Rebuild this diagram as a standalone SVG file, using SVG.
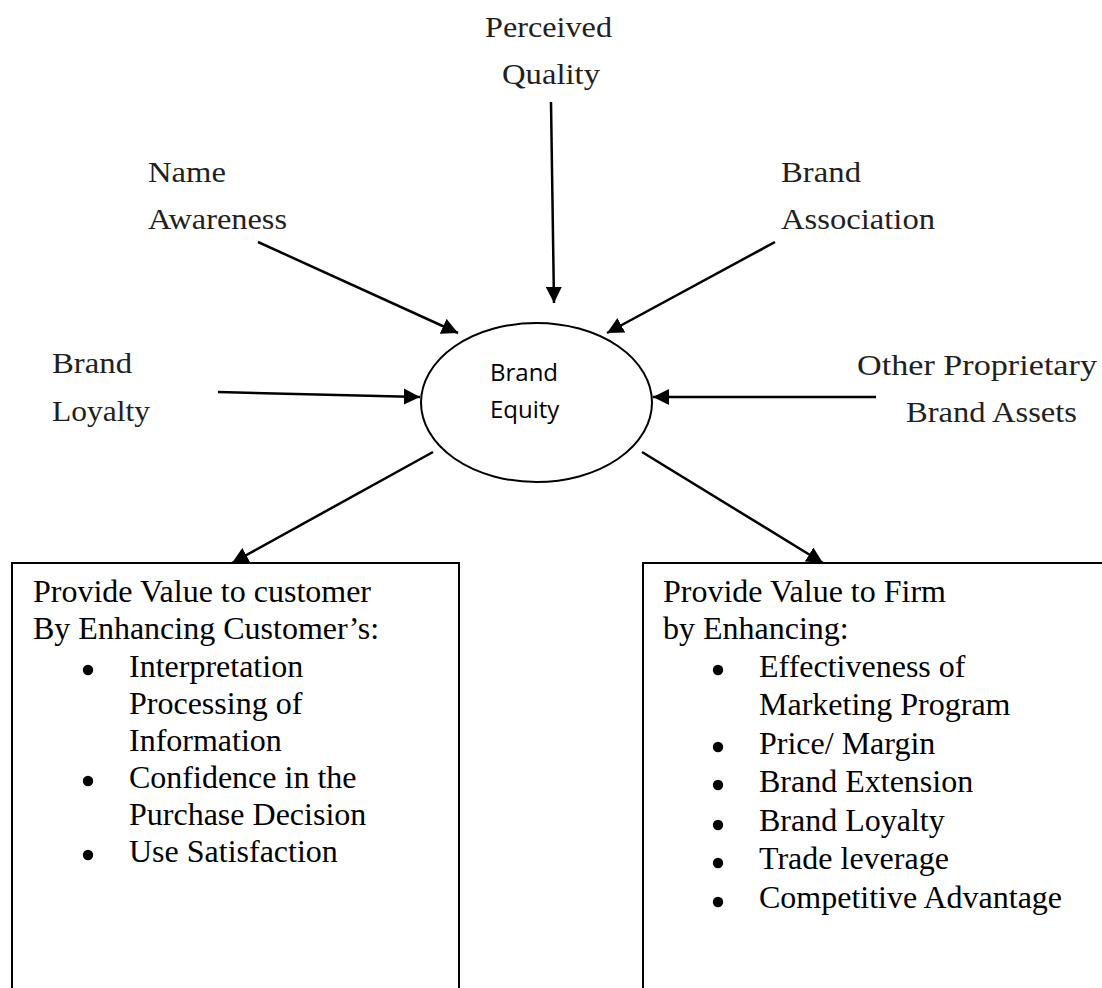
<svg xmlns="http://www.w3.org/2000/svg" width="1102" height="988" viewBox="0 0 1102 988">
<style>
.lbl{font-family:"Liberation Serif","Times New Roman",serif;font-size:29px;fill:#231f20}
.box{font-family:"Liberation Serif","Times New Roman",serif;font-size:32px;fill:#000}
.core{font-family:"Open Sans","Noto Sans",sans-serif;font-size:24px;fill:#000}
.ln{stroke:#000;stroke-width:2.5;fill:none}
.shape{stroke:#000;stroke-width:2;fill:#fff}
.bul{fill:#000}
</style>
<defs>
<marker id="ah" viewBox="0 0 10 10" refX="10" refY="5" markerWidth="6.5" markerHeight="6.5" orient="auto" markerUnits="strokeWidth">
<path d="M0,0 L10,5 L0,10 z" fill="#000"/>
</marker>
</defs>
<rect width="1102" height="988" fill="#fff"/>
<g id="connectors">
<line class="ln" x1="551" y1="102" x2="554" y2="303" marker-end="url(#ah)"/>
<line class="ln" x1="258" y1="242" x2="458" y2="333" marker-end="url(#ah)"/>
<line class="ln" x1="775" y1="242" x2="607" y2="333" marker-end="url(#ah)"/>
<line class="ln" x1="218" y1="392" x2="420" y2="397" marker-end="url(#ah)"/>
<line class="ln" x1="876" y1="397" x2="653" y2="397" marker-end="url(#ah)"/>
<line class="ln" x1="433" y1="452" x2="232" y2="563" marker-end="url(#ah)"/>
<line class="ln" x1="642" y1="452" x2="823" y2="563" marker-end="url(#ah)"/>
</g>
<g id="brand-equity">
<ellipse class="shape" cx="536.5" cy="402.5" rx="115.5" ry="79.5"/>
<text class="core" x="490" y="381">Brand</text>
<text class="core" x="490" y="418">Equity</text>
</g>
<g id="perceived-quality">
<text class="lbl" x="485" y="37" textLength="127" lengthAdjust="spacingAndGlyphs">Perceived</text>
<text class="lbl" x="502" y="84" textLength="98" lengthAdjust="spacingAndGlyphs">Quality</text>
</g>
<g id="name-awareness">
<text class="lbl" x="148" y="182" textLength="78" lengthAdjust="spacingAndGlyphs">Name</text>
<text class="lbl" x="148" y="229" textLength="139" lengthAdjust="spacingAndGlyphs">Awareness</text>
</g>
<g id="brand-association">
<text class="lbl" x="781" y="182" textLength="80" lengthAdjust="spacingAndGlyphs">Brand</text>
<text class="lbl" x="781" y="229" textLength="154" lengthAdjust="spacingAndGlyphs">Association</text>
</g>
<g id="brand-loyalty">
<text class="lbl" x="52" y="373" textLength="80" lengthAdjust="spacingAndGlyphs">Brand</text>
<text class="lbl" x="52" y="421" textLength="98" lengthAdjust="spacingAndGlyphs">Loyalty</text>
</g>
<g id="other-assets">
<text class="lbl" x="857" y="375" textLength="240" lengthAdjust="spacingAndGlyphs">Other Proprietary</text>
<text class="lbl" x="906" y="422" textLength="171" lengthAdjust="spacingAndGlyphs">Brand Assets</text>
</g>
<g id="value-customer">
<rect class="shape" x="12" y="563" width="447" height="440"/>
<text class="box" x="33" y="602">Provide Value to customer</text>
<text class="box" x="33" y="639">By Enhancing Customer’s:</text>
<circle class="bul" cx="88" cy="670" r="5.2"/>
<text class="box" x="129" y="677">Interpretation</text>
<text class="box" x="129" y="714">Processing of</text>
<text class="box" x="129" y="751">Information</text>
<circle class="bul" cx="88" cy="781" r="5.2"/>
<text class="box" x="129" y="788">Confidence in the</text>
<text class="box" x="129" y="825">Purchase Decision</text>
<circle class="bul" cx="88" cy="855" r="5.2"/>
<text class="box" x="129" y="862">Use Satisfaction</text>
</g>
<g id="value-firm">
<rect class="shape" x="643" y="563" width="470" height="440"/>
<text class="box" x="663" y="602">Provide Value to Firm</text>
<text class="box" x="663" y="639">by Enhancing:</text>
<circle class="bul" cx="718" cy="670" r="5.2"/>
<text class="box" x="759" y="677">Effectiveness of</text>
<text class="box" x="759" y="715">Marketing Program</text>
<circle class="bul" cx="718" cy="747" r="5.2"/>
<text class="box" x="759" y="754">Price/ Margin</text>
<circle class="bul" cx="718" cy="785" r="5.2"/>
<text class="box" x="759" y="792">Brand Extension</text>
<circle class="bul" cx="718" cy="825" r="5.2"/>
<text class="box" x="759" y="831">Brand Loyalty</text>
<circle class="bul" cx="718" cy="863" r="5.2"/>
<text class="box" x="759" y="869">Trade leverage</text>
<circle class="bul" cx="718" cy="902" r="5.2"/>
<text class="box" x="759" y="908">Competitive Advantage</text>
</g>
</svg>
